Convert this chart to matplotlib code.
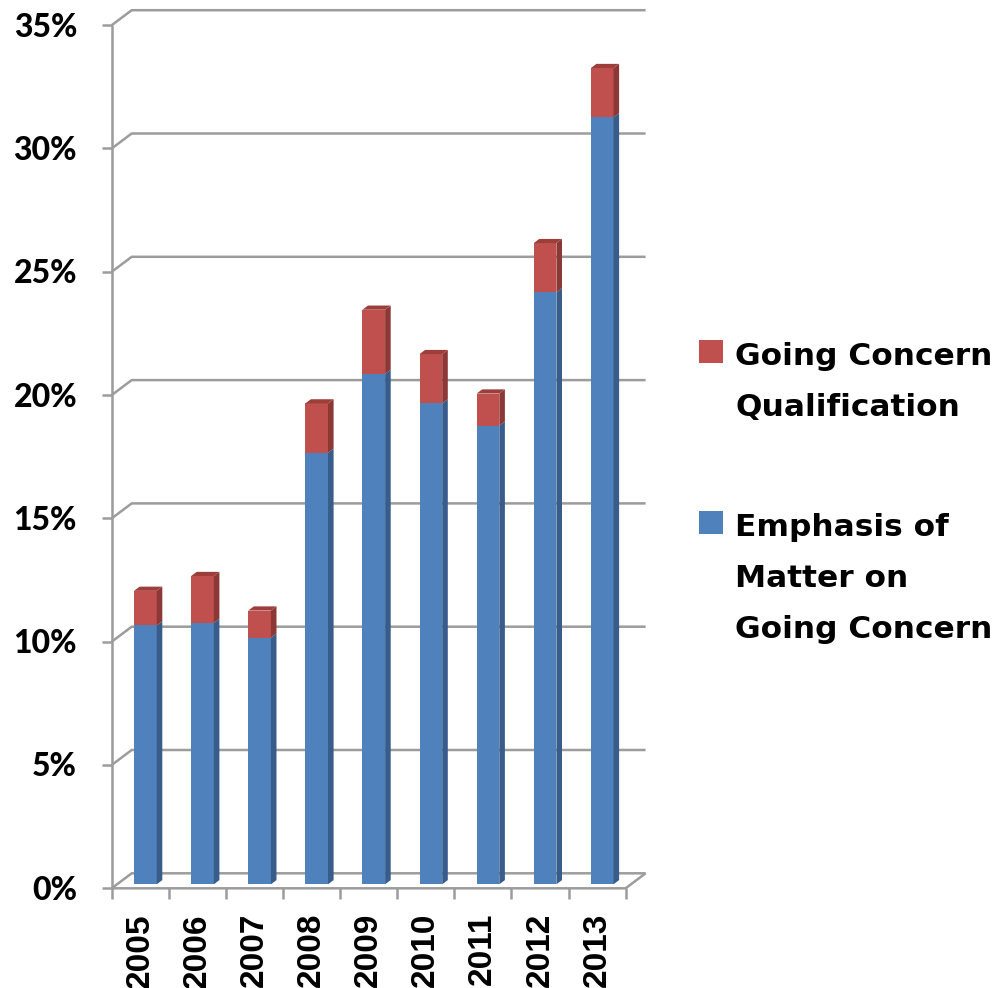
import matplotlib.pyplot as plt
from matplotlib.patches import Polygon, Rectangle

# share of audit reports, in percent
years = ["2005", "2006", "2007", "2008", "2009", "2010", "2011", "2012", "2013"]
emphasis = [10.5, 10.6, 10.0, 17.5, 20.7, 19.5, 18.6, 24.0, 31.1]
qualification = [1.4, 1.9, 1.1, 2.0, 2.6, 2.0, 1.3, 2.0, 2.0]
y_ticks = [0, 5, 10, 15, 20, 25, 30, 35]
legend_entries = [
    (["Going Concern", "Qualification"], "red"),
    (["Emphasis of", "Matter on", "Going Concern"], "blue"),
]

W, H = 996, 988
X0, CAT_PX = 111.7, 57.1   # pixel x of the first category edge, pixels per category
Y0, PCT_PX = 888.3, 24.66  # pixel y of 0 %, pixels per percent

COLORS = {
    "blue": ("#4f81bd", "#385d8a", "#3f6aa0"),
    "red": ("#c0504d", "#8c3836", "#9e3e3b"),
}
GRID = "#9c9c9c"
TICK_FONT = "Lato"
LEGEND_FONT = "DejaVu Sans"
YEAR_FONT = "Liberation Sans"


def to_data(x_px, y_px):
    return (x_px - X0) / CAT_PX, (Y0 - y_px) / PCT_PX


fig = plt.figure(figsize=(W / 100, H / 100), dpi=100)
ax = fig.add_axes([0, 0, 1, 1])
ax.set_xlim(-X0 / CAT_PX, (W - X0) / CAT_PX)
ax.set_ylim((Y0 - H) / PCT_PX, Y0 / PCT_PX)
ax.axis("off")

n = len(years)
wall_dx, wall_dy = 20 / CAT_PX, 15 / PCT_PX
line_kw = dict(color=GRID, lw=1.8, solid_capstyle="butt", zorder=1)

# side wall diagonals and back wall gridlines
for t in y_ticks:
    ax.plot([0, wall_dx, n + wall_dx], [t, t + wall_dy, t + wall_dy], **line_kw)
    ax.plot([-10 / CAT_PX, 0], [t, t], **line_kw)
    ax.text(*to_data(77, Y0 - t * PCT_PX + 2), f"{t}%", ha="right", va="center",
            fontsize=23, fontweight=900, family=TICK_FONT)

# value axis and floor edges
ax.plot([0, 0], [0, y_ticks[-1]], **line_kw)
ax.plot([0, n, n + wall_dx], [0, 0, wall_dy], **line_kw)
for i in range(n + 1):
    ax.plot([i, i], [0, -11 / PCT_PX], **line_kw)

# stacked 3-D style columns
bar_off, bar_w = 22.3 / CAT_PX, 22.7 / CAT_PX
lift = 4.0 / PCT_PX
side_x, side_y = 5.6 / CAT_PX, 4.2 / PCT_PX

for i in range(n):
    segments = [(0, emphasis[i], "blue"), (emphasis[i], qualification[i], "red")]
    left = i + bar_off
    right = left + bar_w
    for k, (base, height, key) in enumerate(segments):
        front, side, top = COLORS[key]
        b = base + lift
        t = b + height
        ax.bar(left, height, width=bar_w, bottom=b, align="edge",
               color=front, lw=0, zorder=3)
        ax.add_patch(Polygon([(right, b), (right, t), (right + side_x, t + side_y),
                              (right + side_x, b + side_y)],
                             closed=True, facecolor=side, lw=0, zorder=3))
        if k == len(segments) - 1:
            ax.add_patch(Polygon([(left, t), (right, t), (right + side_x, t + side_y),
                                  (left + side_x, t + side_y)],
                                 closed=True, facecolor=top, lw=0, zorder=3))
    ax.text(i + 0.5, to_data(0, 913)[1], years[i], rotation=90, ha="center",
            va="top", fontsize=24, fontweight="bold", family=YEAR_FONT)

# legend
legend_tops = [340, 511]
line_step = 51
for (lines, key), top_px in zip(legend_entries, legend_tops):
    x, y = to_data(699, top_px + 23)
    ax.add_patch(Rectangle((x, y), 24 / CAT_PX, 23 / PCT_PX,
                           facecolor=COLORS[key][0], lw=0))
    for j, line in enumerate(lines):
        ax.text(*to_data(735, top_px + 25 + j * line_step), line, ha="left",
                va="baseline", fontsize=22.5, fontweight="bold", family=LEGEND_FONT)

fig.savefig("out.png", dpi=100)
